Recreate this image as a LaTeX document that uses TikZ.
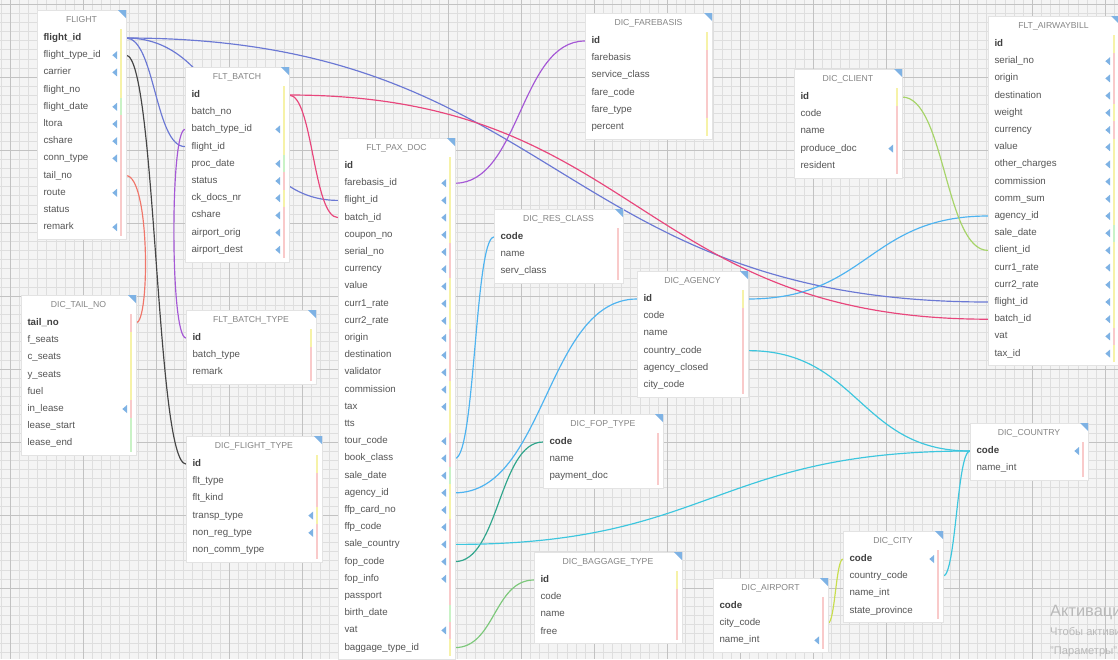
\documentclass[tikz,border=0pt]{standalone}
\usepackage{fontspec}
\setmainfont{Liberation Sans}

\definecolor{canvas}{HTML}{F4F4F4}
\definecolor{minorline}{HTML}{DEDEDE}
\definecolor{majorline}{HTML}{C2C2C2}
\definecolor{rowtext}{HTML}{555555}
\definecolor{titletext}{HTML}{858585}
\definecolor{markblue}{HTML}{7EB2E4}
\definecolor{baryellow}{HTML}{F6F2A8}
\definecolor{barpink}{HTML}{F9CACA}
\definecolor{bargreen}{HTML}{C9F2C6}
\definecolor{cblue}{HTML}{6B78D4}
\definecolor{cpink}{HTML}{E8467C}
\definecolor{cdark}{HTML}{454545}
\definecolor{corange}{HTML}{F0766A}
\definecolor{cpurple}{HTML}{A558D6}
\definecolor{csky}{HTML}{4DB3F0}
\definecolor{cteal}{HTML}{2FA58C}
\definecolor{ccyan}{HTML}{3CC6DE}
\definecolor{cgreen}{HTML}{7CC87A}
\definecolor{cleaf}{HTML}{A6D468}
\definecolor{clime}{HTML}{C8DE4E}

\pgfdeclarelayer{grid}
\pgfdeclarelayer{links}
\pgfsetlayers{grid,links,main}

\tikzset{
  tablebox/.style={anchor=north west,fill=white,draw=gray!22,line width=.3pt,inner sep=0pt,outer sep=0pt},
  tabletitle/.style={font=\fontsize{7.4}{8}\selectfont,text=titletext,inner sep=0pt},
  tablerow/.style={font=\fontsize{8.3}{9}\selectfont,text=rowtext,align=left,inner xsep=.195cm,
    inner ysep=0pt,outer sep=0pt,text height=6pt,text depth=1.8pt},
  bary/.style={fill=baryellow},
  barp/.style={fill=barpink},
  barg/.style={fill=bargreen},
  fkmark/.style={fill=markblue},
  cornermark/.style={fill=markblue},
  minorgrid/.style={draw=minorline,line width=.3pt},
  majorgrid/.style={draw=majorline,line width=.45pt},
  link/.style={draw=#1,line width=1pt},
  watermark/.style={text=gray!55,anchor=west,inner sep=0pt}
}

% #1 name, #2 x, #3 y (top), #4 width, #5 title, #6 rows label/fk/bar
\newcommand{\dbtable}[6]{%
  \foreach \lbl/\fk/\col [count=\n] in {#6} {\xdef\dbrows{\n}}%
  \pgfmathsetmacro{\dbw}{#4*0.03}%
  \pgfmathsetmacro{\dbh}{(40+(\dbrows-1)*17.2)*0.03}%
  \pgfmathsetmacro{\dbtw}{(#4-13)*0.03}%
  \node[tablebox,minimum width=\dbw cm,minimum height=\dbh cm] (#1) at (#2,#3) {};%
  \node[tabletitle] (#1-t) at ([yshift=-.3cm]#1.north) {#5};%
  \fill[cornermark] ([xshift=-.24cm]#1.north east) -- (#1.north east) -- ([yshift=-.24cm]#1.north east) -- cycle;%
  \foreach \lbl/\fk/\col [count=\n] in {#6} {%
    \pgfmathsetmacro{\dby}{(28+(\n-1)*17.2)*0.03}%
    \node[tablerow,text width=\dbtw cm] (#1-\n) at ([yshift=-\dby cm]#1.north)
      {\ifnum\n=1 \bfseries\color{black!75}\fi\lbl};%
    \fill[bar\col] ([xshift=-.19cm,yshift=.258cm]#1-\n.east) rectangle ([xshift=-.11cm,yshift=-.258cm]#1-\n.east);%
    \ifnum\fk=1
      \fill[fkmark] ([xshift=-.27cm,yshift=.12cm]#1-\n.east) -- ([xshift=-.27cm,yshift=-.12cm]#1-\n.east)
        -- ([xshift=-.41cm]#1-\n.east) -- cycle;%
    \fi
  }%
}

\begin{document}
\begin{tikzpicture}[x=0.03cm,y=-0.03cm]
\useasboundingbox (0,0) rectangle (1118,659);

\begin{pgfonlayer}{grid}
\fill[canvas] (0,0) rectangle (1118,659);
\foreach \i in {0,...,123} \draw[minorgrid] ({\i*9.125+1},0) -- ++(0,659);
\foreach \i in {0,...,72} \draw[minorgrid] (0,{\i*9.125+4}) -- ++(1118,0);
\foreach \i in {0,...,15} \draw[majorgrid] ({\i*73+10},0) -- ++(0,659);
\foreach \i in {0,...,9} \draw[majorgrid] (0,{\i*73+4}) -- ++(1118,0);
\end{pgfonlayer}

% tables
\dbtable{flight}{37}{10}{89}{FLIGHT}{flight\_id/0/y,flight\_type\_id/1/y,carrier/1/y,flight\_no/0/y,
  flight\_date/1/g,ltora/1/p,cshare/1/p,conn\_type/1/p,tail\_no/0/p,route/1/p,status/0/p,remark/1/p}
\dbtable{fltbatch}{185}{67}{104}{FLT\_BATCH}{id/0/y,batch\_no/0/y,batch\_type\_id/1/y,flight\_id/0/y,
  proc\_date/1/g,status/1/p,ck\_docs\_nr/1/y,cshare/1/p,airport\_orig/1/p,airport\_dest/1/p}
\dbtable{tailno}{21}{295}{115}{DIC\_TAIL\_NO}{tail\_no/0/p,f\_seats/0/y,c\_seats/0/y,y\_seats/0/y,
  fuel/0/y,in\_lease/1/p,lease\_start/0/g,lease\_end/0/g}
\dbtable{batchtype}{186}{310}{130}{FLT\_BATCH\_TYPE}{id/0/y,batch\_type/0/p,remark/0/p}
\dbtable{flighttype}{186}{436}{136}{DIC\_FLIGHT\_TYPE}{id/0/y,flt\_type/0/p,flt\_kind/0/p,
  transp\_type/1/y,non\_reg\_type/1/p,non\_comm\_type/0/p}
\dbtable{paxdoc}{338}{138}{117}{FLT\_PAX\_DOC}{id/0/y,farebasis\_id/1/y,flight\_id/1/y,batch\_id/1/y,
  coupon\_no/1/y,serial\_no/1/p,currency/1/p,value/1/y,curr1\_rate/1/y,curr2\_rate/1/y,origin/1/p,
  destination/1/p,validator/1/p,commission/1/y,tax/1/y,tts/0/y,tour\_code/1/p,book\_class/1/p,
  sale\_date/1/g,agency\_id/1/y,ffp\_card\_no/1/y,ffp\_code/1/p,sale\_country/1/p,fop\_code/1/p,
  fop\_info/1/p,passport/0/p,birth\_date/0/g,vat/1/p,baggage\_type\_id/0/y}
\dbtable{farebasis}{585}{13}{127}{DIC\_FAREBASIS}{id/0/y,farebasis/0/p,service\_class/0/p,
  fare\_code/0/p,fare\_type/0/p,percent/0/y}
\dbtable{resclass}{494}{209}{129}{DIC\_RES\_CLASS}{code/0/p,name/0/p,serv\_class/0/p}
\dbtable{agency}{637}{271}{111}{DIC\_AGENCY}{id/0/y,code/0/p,name/0/p,country\_code/0/p,
  agency\_closed/0/p,city\_code/0/p}
\dbtable{client}{794}{69}{108}{DIC\_CLIENT}{id/0/y,code/0/p,name/0/p,produce\_doc/1/p,resident/0/p}
\dbtable{airwaybill}{988}{16}{131}{FLT\_AIRWAYBILL}{id/0/y,serial\_no/1/p,origin/1/p,destination/1/p,
  weight/1/y,currency/1/p,value/1/y,other\_charges/1/y,commission/1/y,comm\_sum/1/y,agency\_id/1/y,
  sale\_date/1/g,client\_id/1/y,curr1\_rate/1/y,curr2\_rate/1/y,flight\_id/1/y,batch\_id/1/y,vat/1/p,tax\_id/1/y}
\dbtable{foptype}{543}{414}{120}{DIC\_FOP\_TYPE}{code/0/p,name/0/p,payment\_doc/0/p}
\dbtable{baggage}{534}{552}{148}{DIC\_BAGGAGE\_TYPE}{id/0/y,code/0/p,name/0/p,free/0/p}
\dbtable{country}{970}{423}{118}{DIC\_COUNTRY}{code/1/p,name\_int/0/p}
\dbtable{city}{843}{531}{100}{DIC\_CITY}{code/1/p,country\_code/0/p,name\_int/0/p,state\_province/0/p}
\dbtable{airport}{713}{578}{115}{DIC\_AIRPORT}{code/0/p,city\_code/0/p,name\_int/1/p}

% references
\begin{pgfonlayer}{links}
\draw[link=cblue] (flight-1.east) .. controls +(29,0) and +(-30,0) .. (fltbatch-4.west);
\draw[link=cblue] (flight-1.east) .. controls +(106,0) and +(-106,0) .. (paxdoc-3.west);
\draw[link=cblue] (flight-1.east) .. controls +(431,0) and +(-431,0) .. (airwaybill-16.west);
\draw[link=cpink] (fltbatch-1.east) .. controls +(350,0) and +(-350,0) .. (airwaybill-17.west);
\draw[link=cpink] (fltbatch-1.east) .. controls +(24,0) and +(-25,0) .. (paxdoc-4.west);
\draw[link=cdark] (flight-2.east) .. controls +(30,0) and +(-30,0) .. (flighttype-1.west);
\draw[link=corange] (flight-9.east) .. controls +(24,0) and +(14,0) .. (tailno-1.east);
\draw[link=cpurple] (fltbatch-3.west) .. controls +(-15,0) and +(-16,0) .. (batchtype-1.west);
\draw[link=cpurple] (paxdoc-2.east) .. controls +(65,0) and +(-65,0) .. (farebasis-1.west);
\draw[link=csky] (paxdoc-18.east) .. controls +(20,0) and +(-19,0) .. (resclass-1.west);
\draw[link=csky] (paxdoc-20.east) .. controls +(91,0) and +(-91,0) .. (agency-1.west);
\draw[link=cteal] (paxdoc-24.east) .. controls +(44,0) and +(-44,0) .. (foptype-1.west);
\draw[link=ccyan] (paxdoc-23.east) .. controls +(257,0) and +(-257,0) .. (country-1.west);
\draw[link=cgreen] (paxdoc-29.east) .. controls +(40,0) and +(-40,0) .. (baggage-1.west);
\draw[link=csky] (agency-1.east) .. controls +(120,0) and +(-120,0) .. (airwaybill-11.west);
\draw[link=ccyan] (agency-4.east) .. controls +(111,0) and +(-111,0) .. (country-1.west);
\draw[link=cleaf] (client-1.east) .. controls +(43,0) and +(-43,0) .. (airwaybill-13.west);
\draw[link=ccyan] (city-2.east) .. controls +(13,0) and +(-13,0) .. (country-1.west);
\draw[link=clime] (airport-2.east) .. controls +(7,0) and +(-7,0) .. (city-1.west);
\end{pgfonlayer}

% watermark
\node[watermark,font=\fontsize{14}{16}\selectfont] (wm1) at (1050,612) {Активация Windows};
\node[watermark,font=\fontsize{9.5}{11}\selectfont] (wm2) at (1050,633) {Чтобы активировать Windows, перейдите в раздел};
\node[watermark,font=\fontsize{9.5}{11}\selectfont] (wm3) at (1050,652) {"Параметры".};
\end{tikzpicture}
\end{document}
